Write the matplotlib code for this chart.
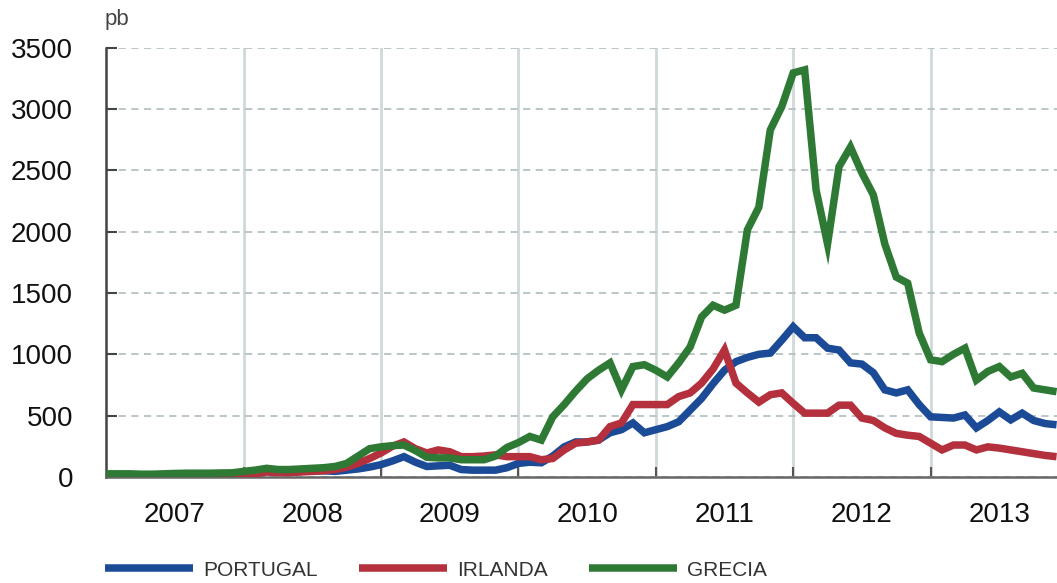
import matplotlib
matplotlib.use("Agg")
import matplotlib.pyplot as plt
import numpy as np

# monthly spreads, Jan 2007 - Dec 2013 (pb)
portugal = [
    18, 18, 17, 17, 17, 18, 20, 20, 22, 22, 22, 22,
    30, 35, 45, 40, 40, 45, 50, 50, 45, 55, 65, 80,
    100, 130, 165, 120, 85, 90, 95, 60, 55, 55, 55, 75,
    110, 120, 115, 170, 245, 285, 285, 300, 360, 385, 440, 360,
    385, 410, 450, 545, 640, 760, 870, 940, 975, 1000, 1010, 1115,
    1225, 1135, 1135, 1050, 1035, 930, 920, 850, 710, 685, 710, 590,
    490, 485, 480, 505, 400, 460, 530, 465, 520, 460, 435, 425,
]
irlanda = [
    5, 5, 5, 5, 5, 5, 8, 10, 10, 10, 12, 15,
    20, 25, 40, 35, 35, 40, 45, 50, 60, 80, 110, 150,
    195, 250, 285, 230, 195, 220, 205, 165, 165, 170, 180, 165,
    165, 165, 140, 150, 220, 275, 285, 300, 410, 440, 590, 590,
    590, 590, 655, 685, 765, 880, 1035, 765, 685, 610, 670, 685,
    600, 520, 520, 520, 585, 585, 480, 460, 400, 355, 340, 330,
    275, 220, 260, 260, 220, 245, 235, 220, 205, 190, 175, 165,
]
grecia = [
    25, 25, 25, 22, 22, 25, 28, 30, 30, 30, 32, 33,
    45, 55, 70, 60, 60, 65, 70, 75, 85, 110, 170, 230,
    245, 255, 260, 215, 160, 155, 155, 140, 140, 140, 170, 240,
    280, 330, 300, 490, 590, 700, 800, 870, 930, 710, 900, 915,
    870, 815, 930, 1060, 1305, 1400, 1360, 1400, 2015, 2200, 2830, 3020,
    3295, 3320, 2340, 1900, 2530, 2690, 2480, 2300, 1900, 1630, 1580, 1175,
    955, 940, 1000, 1050, 790, 860, 900, 815, 845, 725, 710, 695,
]
years = list(range(2007, 2014))
series = [
    ("PORTUGAL", portugal, "#1b4a96"),
    ("IRLANDA", irlanda, "#b3303c"),
    ("GRECIA", grecia, "#2e7a35"),
]

plt.rcParams["font.family"] = ["Liberation Sans", "DejaVu Sans"]

fig = plt.figure(figsize=(10.57, 5.83), dpi=100)
ax = fig.add_axes([0.1005, 0.182, 0.8995, 0.736])

x = 2007 + np.arange(len(portugal)) / 12
for name, values, color in series:
    ax.plot(x, values, color=color, lw=5.4, label=name,
            solid_joinstyle="miter", solid_capstyle="butt", zorder=3)

ax.set_xlim(2007.0, 2013.92)
ax.set_ylim(0, 3500)

ax.set_yticks(range(0, 3501, 500))
ax.yaxis.grid(True, color="#b5c1c1", ls=(0, (4, 3)), lw=1.3)
for yr in years[1:]:
    ax.axvline(yr, color="#cfd8da", lw=2, zorder=1)

ax.set_xticks(years[1:])
ax.set_xticklabels([])
ax.set_xticks([y + 0.5 for y in years], minor=True)
ax.set_xticklabels([str(y) for y in years], minor=True)
ax.tick_params(axis="x", which="minor", length=0, pad=18,
               labelsize=20, labelcolor="#111111")
ax.tick_params(axis="x", which="major", direction="in", length=7,
               width=1.5, color="#555555")
ax.tick_params(axis="y", direction="in", length=8, width=1.5,
               color="#444444", pad=24, labelsize=20, labelcolor="#111111")

for side in ("top", "right"):
    ax.spines[side].set_visible(False)
ax.spines["left"].set_color("#444444")
ax.spines["left"].set_linewidth(1.8)
ax.spines["bottom"].set_color("#666666")
ax.spines["bottom"].set_linewidth(1.8)

fig.text(105 / 1057, 1 - 20 / 583, "pb", fontsize=16, color="#444444",
         ha="left", va="center")

leg = fig.legend(
    loc="center left",
    bbox_to_anchor=(105 / 1057, 1 - 570 / 583),
    ncol=3,
    frameon=False,
    borderpad=0,
    borderaxespad=0,
    handlelength=4.2,
    handletextpad=0.5,
    columnspacing=2.0,
    prop={"size": 15},
)
for t in leg.get_texts():
    t.set_color("#333333")

fig.savefig("out.png", dpi=100)
